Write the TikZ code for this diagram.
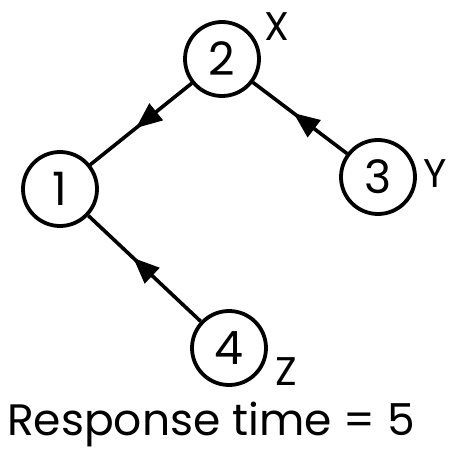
\documentclass[tikz,border=0pt]{standalone}
\usepackage{fontspec}
\setmainfont{Poppins}
\usetikzlibrary{arrows.meta,decorations.markings}

\begin{document}
\begin{tikzpicture}[x=1pt,y=-1pt,
  vertex/.style={circle,draw,line width=3.8pt,minimum size=74pt,inner sep=0pt,
    font=\fontsize{46}{46}\selectfont},
  tag/.style={font=\fontsize{40}{40}\selectfont,inner sep=0pt},
  edge/.style={line width=3.6pt,postaction={decorate},decoration={markings,
    mark=at position #1 with {\arrow{Triangle[length=26pt,width=21pt]}}}},
  edge/.default=0.55]
\useasboundingbox (0,0) rectangle (461,452);

\node[vertex] (n1) at (60,189) {1};
\node[vertex] (n2) at (222,59) {2};
\node[vertex] (n3) at (378,177) {3};
\node[vertex] (n4) at (229,348) {4};

\draw[edge] (n2) -- (n1);
\draw[edge=0.57] (n3) -- (n2);
\draw[edge=0.6] (n4) -- (n1);

\node[tag] (lx) at (277,27) {X};
\node[tag] (ly) at (435,174) {Y};
\node[tag] (lz) at (286,372) {Z};

\node[anchor=base west,inner sep=0pt,font=\fontsize{44}{44}\selectfont] (rt) at (7,435) {Response time = 5};
\end{tikzpicture}
\end{document}
